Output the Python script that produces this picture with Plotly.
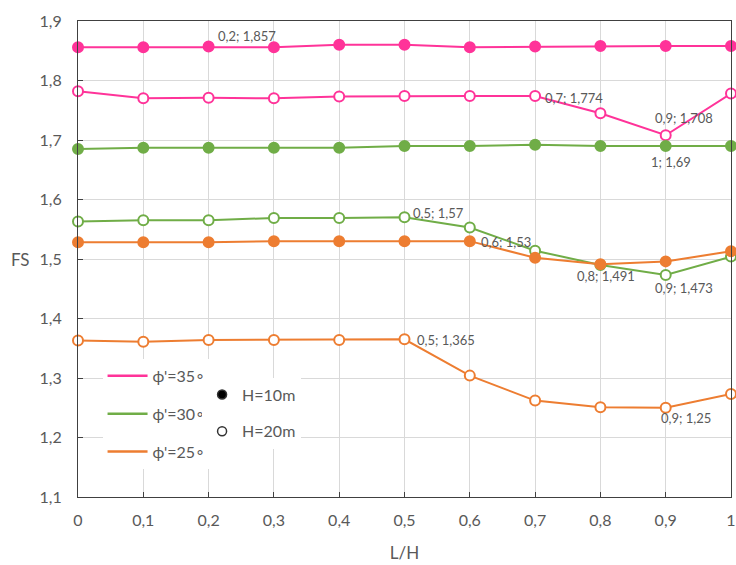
import plotly.graph_objects as go

# ---- data ----
lh = [0, 0.1, 0.2, 0.3, 0.4, 0.5, 0.6, 0.7, 0.8, 0.9, 1.0]
fs_35_h10 = [1.856, 1.856, 1.857, 1.856, 1.860, 1.860, 1.856, 1.857, 1.858, 1.858, 1.858]
fs_35_h20 = [1.782, 1.770, 1.771, 1.770, 1.773, 1.774, 1.774, 1.774, 1.745, 1.708, 1.778]
fs_30_h10 = [1.685, 1.687, 1.687, 1.687, 1.687, 1.690, 1.690, 1.692, 1.690, 1.690, 1.69]
fs_30_h20 = [1.563, 1.565, 1.565, 1.569, 1.569, 1.57, 1.553, 1.514, 1.490, 1.473, 1.504]
fs_25_h10 = [1.528, 1.528, 1.528, 1.530, 1.530, 1.530, 1.53, 1.502, 1.491, 1.496, 1.513]
fs_25_h20 = [1.363, 1.361, 1.364, 1.364, 1.364, 1.365, 1.304, 1.262, 1.251, 1.25, 1.273]

phi_labels = ["ϕ'=35∘", "ϕ'=30∘", "ϕ'=25∘"]
h_labels = ["H=10m", "H=20m"]
x_ticks = [0, 0.1, 0.2, 0.3, 0.4, 0.5, 0.6, 0.7, 0.8, 0.9, 1]

PINK = "#FF3399"
GREEN = "#70AD47"
ORANGE = "#ED7D31"
TXT = "#595959"
FONT = "Lato"

series = [
    (fs_35_h10, PINK, True),
    (fs_35_h20, PINK, False),
    (fs_30_h10, GREEN, True),
    (fs_30_h20, GREEN, False),
    (fs_25_h10, ORANGE, True),
    (fs_25_h20, ORANGE, False),
]

fig = go.Figure()
for ys, col, filled in series:
    fig.add_trace(go.Scatter(
        x=lh, y=ys, mode="lines+markers", showlegend=False,
        line=dict(color=col, width=2),
        marker=dict(size=10, color=col if filled else "white",
                    line=dict(color=col, width=2)),
        hoverinfo="skip", cliponaxis=False,
    ))

# legend 1: lines
for name, col in zip(phi_labels, [PINK, GREEN, ORANGE]):
    fig.add_trace(go.Scatter(
        x=[None], y=[None], mode="lines", name=name, legend="legend",
        legendgroup=name, line=dict(color=col, width=2.5)))
# legend 2: marker type
for name, filled in zip(h_labels, [True, False]):
    fig.add_trace(go.Scatter(
        x=[None], y=[None], mode="markers", name=name, legend="legend2",
        legendgroup=name,
        marker=dict(size=9, color="black" if filled else "white",
                    line=dict(color="#333333", width=1.5))))

# data labels: (series values, index, xshift(left edge), yshift(center))
labels = [
    (fs_35_h10, 2, 7, 11),
    (fs_35_h20, 7, 8, -2),
    (fs_35_h20, 9, -13, 17),
    (fs_30_h10, 10, -82, -16),
    (fs_30_h20, 5, 6, 4),
    (fs_30_h20, 9, -13, -13),
    (fs_25_h10, 6, 9, -1),
    (fs_25_h10, 8, -25, -12),
    (fs_25_h20, 5, 10, -1),
    (fs_25_h20, 9, -7, -10),
]


def fmt(v):
    return f"{v:g}".replace(".", ",")


for ys, i, xs, ysh in labels:
    fig.add_annotation(
        x=lh[i], y=ys[i], xref="x", yref="y",
        text=f"{fmt(lh[i])}; {fmt(ys[i])}",
        showarrow=False, xanchor="left", yanchor="middle",
        xshift=xs, yshift=ysh,
        font=dict(family=FONT, size=13, color=TXT),
    )

fig.add_annotation(
    x=-0.07, y=1.5, xref="paper", yref="y", text="FS", showarrow=False,
    xanchor="right", yanchor="middle",
    font=dict(family=FONT, size=17, color=TXT),
)

axis_common = dict(
    showgrid=True, gridcolor="#D9D9D9", gridwidth=1,
    showline=True, linecolor="#404040", linewidth=1.2, mirror=True,
    ticks="inside", ticklen=5, tickcolor="#404040",
    tickfont=dict(family=FONT, size=16, color=TXT),
    zeroline=False, automargin=False, ticklabeloverflow="allow",
)

fig.update_xaxes(
    range=[0, 1], tickvals=x_ticks, ticklabelstandoff=9,
    title=dict(text="L/H", font=dict(family=FONT, size=17, color=TXT), standoff=18),
    **axis_common,
)
fig.update_yaxes(
    range=[1.1, 1.9], dtick=0.1, tick0=1.1,
    ticklabelstandoff=12,
    **axis_common,
)

fig.update_layout(
    width=736, height=565,
    margin=dict(l=78, r=5, t=21, b=68),
    paper_bgcolor="white", plot_bgcolor="white",
    separators=", ",
    font=dict(family=FONT, color=TXT),
    legend=dict(
        x=0.0376, y=0.29, xanchor="left", yanchor="top",
        bgcolor="white", borderwidth=0,
        font=dict(family=FONT, size=16, color=TXT),
        tracegroupgap=14, itemwidth=40,
    ),
    legend2=dict(
        x=0.19, y=0.251, xanchor="left", yanchor="top",
        bgcolor="white", borderwidth=0,
        font=dict(family=FONT, size=16, color=TXT),
        tracegroupgap=13, itemwidth=30,
    ),
)

fig.write_html(
    "out.html",
    config={"displayModeBar": False},
    post_script="document.body.style.margin='0';document.body.style.overflow='hidden';",
)
